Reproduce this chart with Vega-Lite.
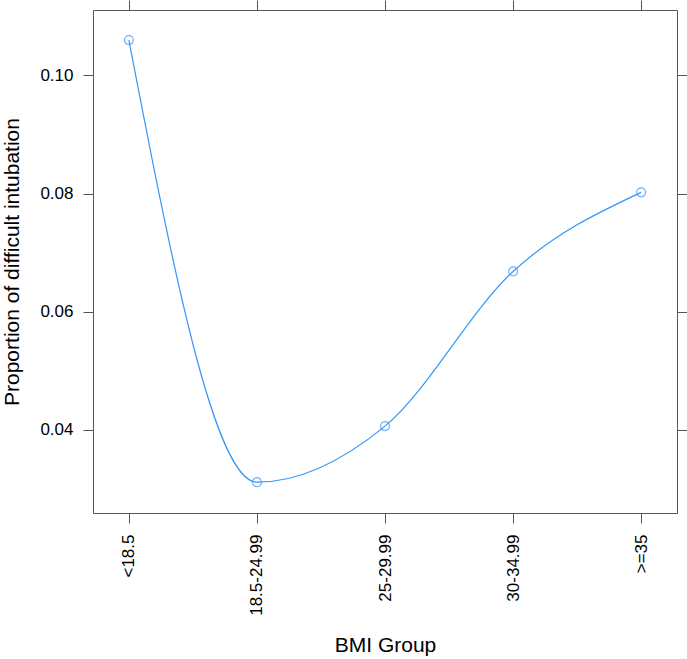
{
  "$schema": "https://vega.github.io/schema/vega-lite/v6.json",
  "autosize": "none",
  "width": 584,
  "height": 503,
  "padding": {"left": 93, "top": 10, "right": 10, "bottom": 146},
  "background": "white",
  "config": {
    "view": {"stroke": "#555555", "strokeWidth": 1},
    "font": "Liberation Sans",
    "axis": {
      "labelFont": "Liberation Sans",
      "titleFont": "Liberation Sans",
      "labelFontSize": 17,
      "titleFontSize": 21,
      "titleFontWeight": "normal",
      "labelColor": "black",
      "titleColor": "black",
      "tickColor": "#555555",
      "domain": false,
      "grid": false,
      "tickSize": 10,
      "labelPadding": 10
    }
  },
  "data": {
    "values": [
      {"group": "<18.5", "prop": 0.1060},
      {"group": "18.5-24.99", "prop": 0.0311},
      {"group": "25-29.99", "prop": 0.0406},
      {"group": "30-34.99", "prop": 0.0668},
      {"group": ">=35", "prop": 0.0802}
    ]
  },
  "resolve": {"axis": {"x": "independent", "y": "independent"}},
  "layer": [
    {
      "mark": {"type": "line", "interpolate": "monotone", "color": "#3396f8", "strokeWidth": 1.2},
      "encoding": {
        "x": {
          "field": "group", "type": "ordinal", "sort": null,
          "scale": {"type": "point", "padding": 0.28},
          "axis": {"title": "BMI Group", "labelAngle": -90, "orient": "bottom", "titlePadding": 19, "labelPadding": 11}
        },
        "y": {
          "field": "prop", "type": "quantitative",
          "scale": {"domain": [0.02588, 0.11109], "nice": false, "zero": false},
          "axis": {"title": "Proportion of difficult intubation", "values": [0.04, 0.06, 0.08, 0.10], "format": ".2f", "orient": "left", "titlePadding": 17}
        }
      }
    },
    {
      "mark": {"type": "point", "shape": "circle", "filled": false, "color": "#3396f8", "size": 80, "strokeWidth": 1.2},
      "encoding": {
        "x": {
          "field": "group", "type": "ordinal", "sort": null,
          "scale": {"type": "point", "padding": 0.28},
          "axis": {"title": null, "labels": false, "orient": "top"}
        },
        "y": {
          "field": "prop", "type": "quantitative",
          "scale": {"domain": [0.02588, 0.11109], "nice": false, "zero": false},
          "axis": {"title": null, "labels": false, "values": [0.04, 0.06, 0.08, 0.10], "orient": "right"}
        }
      }
    }
  ]
}
